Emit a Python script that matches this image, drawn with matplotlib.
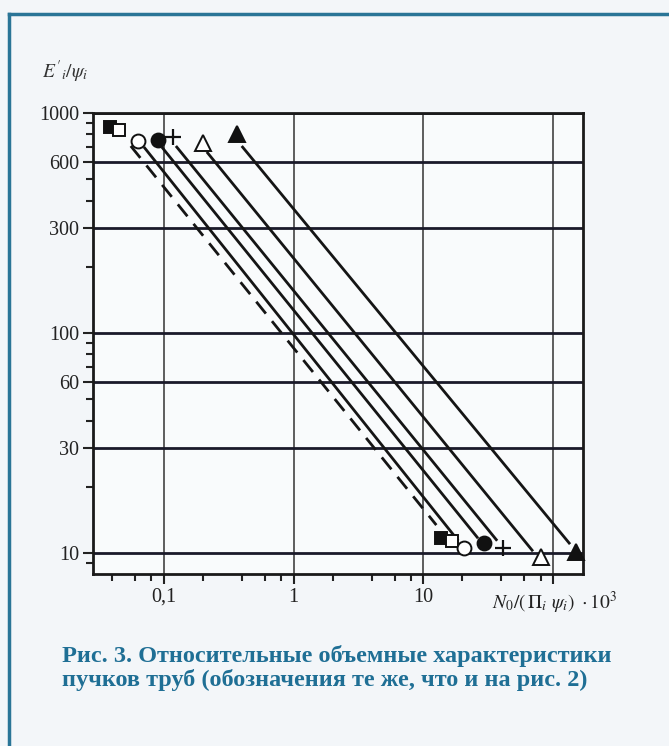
"""
Рис. 3 - относительные объемные характеристики пучков труб (log-log)
"""
import matplotlib
matplotlib.use('Agg')
import matplotlib.pyplot as plt
from matplotlib.ticker import FixedLocator, FixedFormatter, NullFormatter
from matplotlib.lines import Line2D

plt.rcParams['font.family'] = ['Liberation Serif', 'DejaVu Serif']
plt.rcParams['mathtext.fontset'] = 'stix'

# маркеры: верхняя и нижняя точки каждой серии
top_x = [0.0385, 0.045, 0.063, 0.09, 0.117, 0.20, 0.365]
top_y = [864, 837, 747, 755, 778, 730, 803]
bot_x = [13.7, 16.7, 20.7, 29.4, 41.2, 81, 150]
bot_y = [11.7, 11.3, 10.5, 11.1, 10.5, 9.6, 10.1]

# прямые (штриховая + 5 сплошных)
line_x0 = [0.0557, 0.0714, 0.098, 0.126, 0.218, 0.405]
line_y0 = [708, 693, 693, 700, 658, 700]
line_x1 = [12.6, 18.3, 26.0, 36.5, 68.9, 133]
line_y1 = [13.4, 11.5, 11.8, 11.5, 10.3, 11.1]
line_dash = [True, False, False, False, False, False]

y_major = [10, 30, 60, 100, 300, 600, 1000]
y_minor = [9, 20, 40, 50, 70, 80, 90, 200, 400, 500, 700, 800, 900]
x_major = [0.1, 1, 10, 100]
x_major_labels = ['0,1', '1', '10', '']
x_minor = [0.04, 0.06, 0.08, 0.2, 0.4, 0.6, 0.8, 2, 4, 6, 8, 20, 40, 60, 80]

caption = ('Рис. 3. Относительные объемные характеристики\n'
           'пучков труб (обозначения те же, что и на рис. 2)')

# стиль маркеров
m_shape = ['s', 's', 'o', 'o', '+', '^', '^']
m_fill = ['#111111', 'white', 'white', '#111111', 'none', 'white', '#111111']
m_size = [9, 9, 10, 10, 11, 11, 11]

fig = plt.figure(figsize=(6.69, 7.46), dpi=100)
fig.patch.set_facecolor('#f3f6f9')
ax = fig.add_axes([93 / 669, 1 - 574 / 746, 490 / 669, 461 / 746])
ax.set_facecolor('#f9fbfc')
ax.set_xscale('log')
ax.set_yscale('log')
ax.set_xlim(0.0285, 170)
ax.set_ylim(8.03, 1000)

# сетка
for v in x_major:
    ax.axvline(v, color='#333333', lw=1.1, zorder=1)
for v in y_major:
    ax.axhline(v, color='#1a1a2a', lw=2.0, zorder=1)

for i in range(len(line_x0)):
    ax.plot([line_x0[i], line_x1[i]], [line_y0[i], line_y1[i]],
            color='#151515', lw=2.0, ls=(0, (5.5, 3.5)) if line_dash[i] else '-',
            zorder=2)

for i in range(len(top_x)):
    for xx, yy in ((top_x[i], top_y[i]), (bot_x[i], bot_y[i])):
        ax.plot(xx, yy, marker=m_shape[i], ms=m_size[i],
                mfc=m_fill[i], mec='#111111', mew=1.4 if m_shape[i] != '+' else 1.6,
                ls='none', zorder=3, clip_on=False)

ax.xaxis.set_major_locator(FixedLocator(x_major))
ax.xaxis.set_major_formatter(FixedFormatter(x_major_labels))
ax.xaxis.set_minor_locator(FixedLocator(x_minor))
ax.xaxis.set_minor_formatter(NullFormatter())
ax.yaxis.set_major_locator(FixedLocator(y_major))
ax.yaxis.set_major_formatter(FixedFormatter([str(v) for v in y_major]))
ax.yaxis.set_minor_locator(FixedLocator(y_minor))
ax.yaxis.set_minor_formatter(NullFormatter())

ax.tick_params(which='major', direction='out', length=7, width=1.5,
               labelsize=14.5, color='#222222', labelcolor='#222222', pad=3)
ax.tick_params(which='minor', direction='out', length=5, width=1.5,
               color='#222222')
for s in ax.spines.values():
    s.set_linewidth(2.0)
    s.set_color('#1a1a1a')

fig.text(42 / 669, 1 - 72 / 746, r"$E'_i/\psi_i$", fontsize=14,
         color='#333333', ha='left', va='center')
fig.text(492 / 669, 1 - 603 / 746, r"$N_0/(\,\Pi_i\ \psi_i)\ \cdot 10^3$",
         fontsize=14, color='#222222', ha='left', va='center')

fig.text(62 / 669, 1 - 668 / 746, caption, fontsize=17.5, fontweight='bold',
         color='#1f6f95', ha='left', va='center', linespacing=1.12)

# синяя рамка
fig.add_artist(Line2D([9 / 669, 9 / 669], [0, 1 - 14 / 746],
                      transform=fig.transFigure, color='#2a7597', lw=2.5))
fig.add_artist(Line2D([9 / 669, 1], [1 - 14 / 746, 1 - 14 / 746],
                      transform=fig.transFigure, color='#2a7597', lw=2.5))

fig.savefig('out.png', dpi=100, facecolor=fig.get_facecolor())
